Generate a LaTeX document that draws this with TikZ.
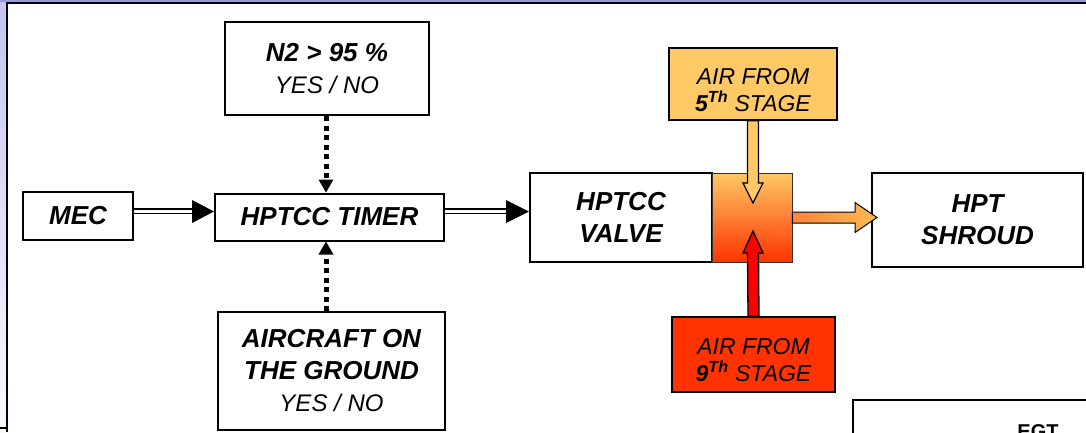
\documentclass[tikz,border=0pt]{standalone}
\usepackage{fontspec}
\setmainfont{Liberation Sans}
\usetikzlibrary{arrows.meta,calc}
\definecolor{cfive}{HTML}{FFC966}
\definecolor{cnine}{HTML}{FF3300}
\definecolor{cred}{HTML}{FF0000}
\definecolor{cmid}{HTML}{FF9A44}
\definecolor{lav}{HTML}{C4C4EE}
\definecolor{lavtop}{HTML}{9898D4}
\newcommand{\mybold}{\fontsize{26}{32}\selectfont\bfseries\itshape}
\newcommand{\myreg}{\fontsize{24}{32}\selectfont\mdseries\itshape}
\newcommand{\mysmall}{\fontsize{23}{27}\selectfont\mdseries\itshape}
\begin{document}
\begin{tikzpicture}[x=1pt,y=-1pt,
  box/.style={draw, line width=2pt, fill=white, inner sep=0pt, align=center,
    font=\mybold},
  airbox/.style={draw, line width=1.6pt, inner sep=0pt},
  airtext/.style={inner sep=0pt, align=center, font=\mysmall},
  dbl/.style={line width=1.8pt, double distance=3pt, shorten >=20pt},
  dotarrow/.style={line width=5pt, dash pattern=on 5pt off 4.5pt,
    -{Triangle[length=13pt,width=15pt,line width=0pt]}},
  blockarrow/.style={draw=black, line width=1.3pt, line join=miter}
]
\useasboundingbox (0,0) rectangle (1086,432);
\clip (0,0) rectangle (1086,432);
% frame / background
\shade[top color=lav, bottom color=white!92!lav] (0,0) rectangle (7,432);
\fill[lavtop] (0,0) rectangle (1086,2);
\draw[line width=2pt, black!90!blue] (7,432) -- (7,3) -- (1086,3);
\draw[line width=2pt] (0,428) -- (7,428);

% nodes
\node[box, minimum width=110pt, minimum height=48pt] (mec) at (78,216) {MEC};
\node[box, minimum width=229pt, minimum height=47pt] (timer) at (329.5,217) {HPTCC TIMER};
\node[box, minimum width=204pt, minimum height=93pt] (n2) at (327,68.5)
  {N2 > 95 \%\\{\myreg YES / NO}};
\node[box, minimum width=227pt, minimum height=118pt] (ac) at (331.5,371)
  {AIRCRAFT ON\\THE GROUND\\{\myreg YES / NO}};
\node[box, minimum width=182pt, minimum height=89pt] (valve) at (621,217.5)
  {HPTCC\\VALVE};
\node[draw=black!80, line width=0.8pt, minimum width=80pt, minimum height=89pt,
  inner sep=0pt, top color=cfive, middle color=cmid, bottom color=cnine] (mix) at (752,217.5) {};
\node[airbox, fill=cfive, minimum width=168pt, minimum height=72pt] (s5) at (753,84) {};
\node[airtext] (s5t) at ($(s5.center)+(0,6)$)
  {AIR FROM\\{\bfseries 5\textsuperscript{Th}} STAGE};
\node[airbox, fill=cnine, minimum width=163pt, minimum height=75pt] (s9) at (753.5,354.5) {};
\node[airtext] (s9t) at ($(s9.center)+(0,6)$)
  {AIR FROM\\{\bfseries 9\textsuperscript{Th}} STAGE};
\node[box, minimum width=211pt, minimum height=94pt] (hpt) at (977.5,220)
  {HPT\\SHROUD};
% partial EGT box at the bottom right
\draw[line width=1.8pt] (853,470) -- (853,400) -- (1100,400);
\node[font=\fontsize{20}{24}\selectfont\bfseries, anchor=north] (egt) at (1038,421) {EGT};

% double arrows
\draw[dbl] (mec.east |- 0,211) -- (timer.west |- 0,211);
\fill (timer.west |- 0,211.5) -- ++(-22,-11.5) -- ++(0,23) -- cycle;
\draw[dbl] (timer.east |- 0,211) -- (valve.west |- 0,211);
\fill (valve.west |- 0,211.5) -- ++(-23,-11.5) -- ++(0,23) -- cycle;

% dotted arrows
\draw[dotarrow] (n2.south -| 326,0) -- (timer.north -| 326,0);
\draw[dotarrow] (ac.north -| 326,0) -- (timer.south -| 326,0);

% block arrows
\coordinate (t5) at (753,203);
\draw[blockarrow, fill=cfive]
  ($(s5.south)+(-5.5,0)$) -- ($(t5)+(-5.5,-20)$) -- ($(t5)+(-10,-20)$) -- (t5)
  -- ($(t5)+(10,-20)$) -- ($(t5)+(5.5,-20)$) -- ($(s5.south)+(5.5,0)$) -- cycle;
\coordinate (t9) at (753,231);
\draw[blockarrow, fill=cred]
  ($(s9.north)+(-5.5,0)$) -- ($(t9)+(-5.5,22)$) -- ($(t9)+(-10,22)$) -- (t9)
  -- ($(t9)+(10,22)$) -- ($(t9)+(5.5,22)$) -- ($(s9.north)+(5.5,0)$) -- cycle;
\coordinate (tr) at (877,217.5);
\draw[blockarrow, line width=1pt, left color=cmid!85!red, right color=cfive!80!orange]
  ($(mix.east)+(0,-5.5)$) -- ($(tr)+(-22,-5.5)$) -- ($(tr)+(-22,-15)$) -- (tr)
  -- ($(tr)+(-22,15)$) -- ($(tr)+(-22,5.5)$) -- ($(mix.east)+(0,5.5)$) -- cycle;
\end{tikzpicture}
\end{document}
